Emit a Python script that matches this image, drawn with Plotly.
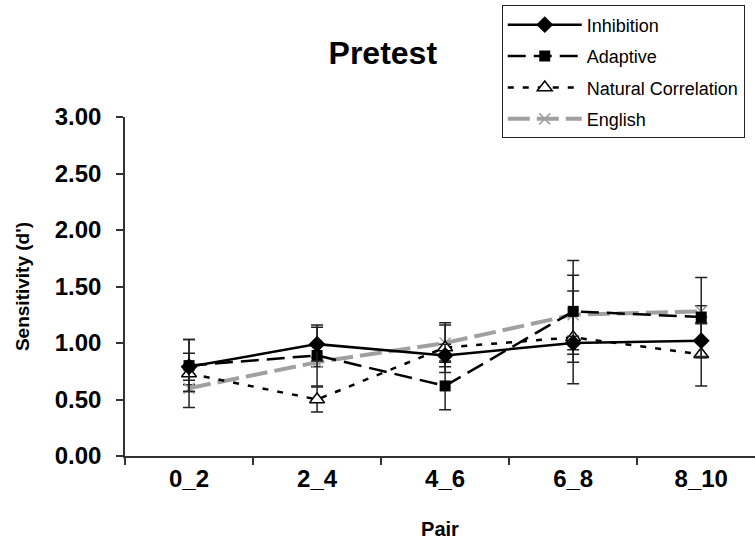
import plotly.graph_objects as go

pairs = ["0_2", "2_4", "4_6", "6_8", "8_10"]

inhibition = [0.79, 0.99, 0.89, 1.00, 1.02]
inhibition_err = [0.12, 0.15, 0.10, 0.06, 0.15]

adaptive = [0.80, 0.89, 0.62, 1.28, 1.23]
adaptive_err = [0.23, 0.27, 0.21, 0.45, 0.35]

natural = [0.73, 0.50, 0.96, 1.05, 0.90]
natural_err = [0.30, 0.11, 0.22, 0.41, 0.28]

english = [0.60, 0.83, 1.00, 1.25, 1.28]
english_err = [0.03, 0.04, 0.16, 0.35, 0.05]

y_ticks = [0, 0.5, 1.0, 1.5, 2.0, 2.5, 3.0]

FONT = "Liberation Sans, Arial, sans-serif"
ERR = dict(type="data", visible=True, color="#222222", thickness=1.5, width=6)

fig = go.Figure()

fig.add_trace(go.Scatter(
    x=pairs, y=english, name="English", mode="lines+markers",
    line=dict(color="#a0a0a0", width=4, dash="22px,7px"),
    marker=dict(symbol="x-thin", size=11, color="#a0a0a0", line=dict(color="#a0a0a0", width=1.5)),
    error_y=dict(array=english_err, **ERR), legendgroup="d", legendrank=4,
))
fig.add_trace(go.Scatter(
    x=pairs, y=natural, name="Natural Correlation", mode="lines+markers",
    line=dict(color="black", width=2.5, dash="6px,9px"),
    marker=dict(symbol="triangle-up", size=13, color="white", line=dict(color="black", width=1.5)),
    error_y=dict(array=natural_err, **ERR), legendgroup="c", legendrank=3,
))
fig.add_trace(go.Scatter(
    x=pairs, y=adaptive, name="Adaptive", mode="lines+markers",
    line=dict(color="black", width=2.5, dash="18px,8px"),
    marker=dict(symbol="square", size=11, color="black"),
    error_y=dict(array=adaptive_err, **ERR), legendgroup="b", legendrank=2,
))
fig.add_trace(go.Scatter(
    x=pairs, y=inhibition, name="Inhibition", mode="lines+markers",
    line=dict(color="black", width=2.5),
    marker=dict(symbol="diamond", size=13, color="black"),
    error_y=dict(array=inhibition_err, **ERR), legendgroup="a", legendrank=1,
))

fig.update_layout(
    width=755, height=551,
    margin=dict(l=125, r=0, t=117, b=95),
    paper_bgcolor="white", plot_bgcolor="white",
    font=dict(family=FONT, color="black"),
    title=dict(text="<b>Pretest</b>", font=dict(size=32, family=FONT, color="black"),
               x=0.507, xref="container", xanchor="center",
               y=1 - 53 / 551, yref="container", yanchor="middle"),
    showlegend=True,
    legend=dict(x=0.598, xanchor="left", y=1.329, yanchor="top",
                bordercolor="#222222", borderwidth=1, bgcolor="white",
                font=dict(size=18, family=FONT, color="black"),
                itemwidth=74,
                tracegroupgap=5, traceorder="grouped"),
    xaxis=dict(
        type="category", range=[-0.5, 4.42],
        showline=True, linecolor="#333333", linewidth=1.5,
        ticks="outside", tickson="boundaries", ticklen=7, tickwidth=1.5, tickcolor="#333333",
        showgrid=False, zeroline=False,
        tickfont=dict(size=24, family=FONT, color="black", weight="bold"),
        title=dict(text="<b>Pair</b>", font=dict(size=20, family=FONT, color="black"), standoff=31),
    ),
    yaxis=dict(
        range=[0, 3], tickvals=y_ticks, tickformat=".2f",
        showline=True, linecolor="#333333", linewidth=1.5,
        ticks="outside", ticklen=7, tickwidth=1.5, tickcolor="#333333",
        ticklabelstandoff=10,
        showgrid=False, zeroline=False,
        tickfont=dict(size=24, family=FONT, color="black", weight="bold"),
        title=dict(text="<b>Sensitivity (d')</b>", font=dict(size=19, family=FONT, color="black"), standoff=20),
    ),
)

fig.write_html("out.html")
